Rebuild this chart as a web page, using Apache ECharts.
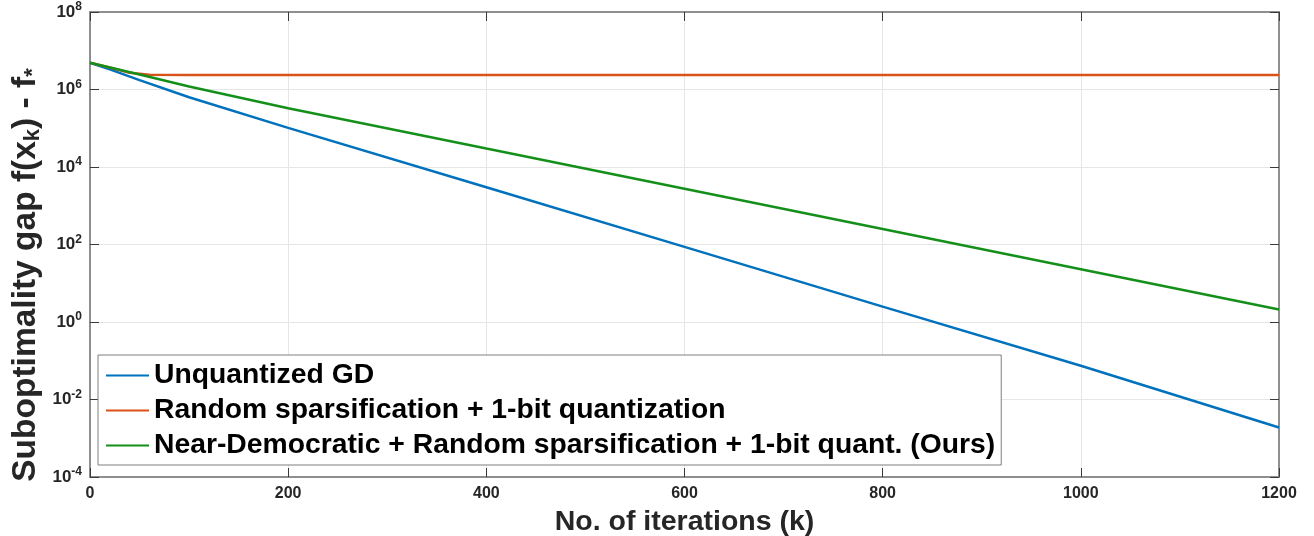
<!DOCTYPE html>
<html>
<head>
<meta charset="utf-8">
<script src="https://cdn.jsdelivr.net/npm/echarts@6/dist/echarts.min.js"></script>
<style>
html,body{margin:0;padding:0;background:#fff;}
#chart{width:1314px;height:536px;}
</style>
</head>
<body>
<div id="chart"></div>
<script>
// Data
const seriesNames = [
  'Unquantized GD',
  'Random sparsification + 1-bit quantization',
  'Near-Democratic + Random sparsification + 1-bit quant. (Ours)'
];
const blueIter = [0, 20, 50, 100, 200, 400, 600, 800, 1000, 1200];
const blueGap  = [4.9e6, 3.3e6, 1.75e6, 6.3e5, 1.02e5, 3.0e3, 87, 2.5, 0.074, 1.9e-3];
const redIter  = [0, 20, 40, 60, 100, 1200];
const redGap   = [4.9e6, 3.7e6, 2.7e6, 2.4e6, 2.35e6, 2.35e6];
const greenIter = [0, 20, 50, 100, 200, 400, 600, 800, 1000, 1200];
const greenGap  = [4.9e6, 3.7e6, 2.45e6, 1.2e6, 3.3e5, 3.0e4, 2.75e3, 250, 23, 2.1];
const xTicks = [0, 200, 400, 600, 800, 1000, 1200];

const colors = ['#0072BD', '#D95319', '#14901a'];
function pairs(xs, ys) { return xs.map((x, i) => [x, ys[i]]); }

const chart = echarts.init(document.getElementById('chart'));
const axisGray = '#8f8f8f';
const tickDark = '#3a3a3a';
const labelColor = '#262626';
const FONT = 'Liberation Sans, Arial';

function yFmt(v) {
  const e = Math.round(Math.log10(v));
  return '{b|10}{s|' + e + '}';
}
const yRich = {
  b: {fontSize: 17, fontWeight: 'bold', color: labelColor, fontFamily: FONT},
  s: {fontSize: 12, fontWeight: 'bold', color: labelColor, fontFamily: FONT, padding: [0, 0, 10, 0]}
};

const option = {
  animation: false,
  color: colors,
  grid: {left: 90, right: 35, top: 12, bottom: 59, containLabel: false, outerBoundsMode: 'none'},
  legend: {
    data: seriesNames.map(n => ({name: n, icon: 'rect'})),
    orient: 'vertical',
    left: 98, top: 355,
    itemWidth: 43, itemHeight: 2, itemGap: 0,
    padding: [3, 6, 2, 8],
    backgroundColor: '#ffffff',
    borderColor: '#7f7f7f', borderWidth: 1,
    textStyle: {fontSize: 28.3, fontWeight: 'bold', color: '#000', fontFamily: FONT, lineHeight: 35}
  },
  xAxis: [{
    type: 'value', min: 0, max: 1200, interval: 200,
    name: 'No. of iterations (k)', nameLocation: 'middle', nameGap: 31,
    nameTextStyle: {fontSize: 28.5, fontWeight: 'bold', color: labelColor, fontFamily: FONT},
    axisLine: {show: true, lineStyle: {color: axisGray, width: 2}},
    axisTick: {show: true, inside: true, length: 9, lineStyle: {color: tickDark}},
    axisLabel: {fontSize: 16, fontWeight: 'bold', color: labelColor, margin: 9, fontFamily: FONT,
      formatter: v => xTicks.includes(v) ? String(v) : ''},
    splitLine: {show: true, lineStyle: {color: '#e6e6e6', width: 1}}
  }, {
    type: 'value', min: 0, max: 1200, interval: 200, position: 'top',
    axisLine: {show: true, onZero: false, lineStyle: {color: axisGray, width: 2}},
    axisTick: {show: true, inside: true, length: 9, lineStyle: {color: tickDark}},
    axisLabel: {show: false}, splitLine: {show: false}
  }],
  yAxis: [{
    type: 'log', logBase: 10, min: 1e-4, max: 1e8, interval: 2,
    axisLine: {show: true, lineStyle: {color: axisGray, width: 2}},
    axisTick: {show: true, inside: true, length: 9, lineStyle: {color: tickDark}},
    axisLabel: {formatter: yFmt, rich: yRich, margin: 8},
    splitLine: {show: true, lineStyle: {color: '#e6e6e6', width: 1}},
    minorTick: {show: false}
  }, {
    type: 'log', logBase: 10, min: 1e-4, max: 1e8, interval: 2, position: 'right',
    axisLine: {show: true, onZero: false, lineStyle: {color: axisGray, width: 2}},
    axisTick: {show: true, inside: true, length: 9, lineStyle: {color: tickDark}},
    axisLabel: {show: false}, splitLine: {show: false}
  }],
  graphic: [{
    type: 'text',
    x: 26, y: 275,
    rotation: Math.PI / 2,
    style: {
      text: '{m|Suboptimality gap f(x}{sub|k}{m|) - f}{sub|*}',
      align: 'center', verticalAlign: 'middle',
      rich: {
        m: {fontSize: 33.5, fontWeight: 'bold', fill: labelColor, fontFamily: FONT},
        sub: {fontSize: 22, fontWeight: 'bold', fill: labelColor, fontFamily: FONT, padding: [14, 0, 0, 0]}
      }
    }
  }],
  series: [
    {name: seriesNames[0], type: 'line', data: pairs(blueIter, blueGap), symbol: 'none', lineStyle: {width: 2.5, color: colors[0]}, itemStyle: {color: colors[0]}},
    {name: seriesNames[1], type: 'line', data: pairs(redIter, redGap), symbol: 'none', lineStyle: {width: 2.5, color: colors[1]}, itemStyle: {color: colors[1]}},
    {name: seriesNames[2], type: 'line', data: pairs(greenIter, greenGap), symbol: 'none', lineStyle: {width: 2.5, color: colors[2]}, itemStyle: {color: colors[2]}}
  ]
};
chart.setOption(option);
</script>
</body>
</html>
